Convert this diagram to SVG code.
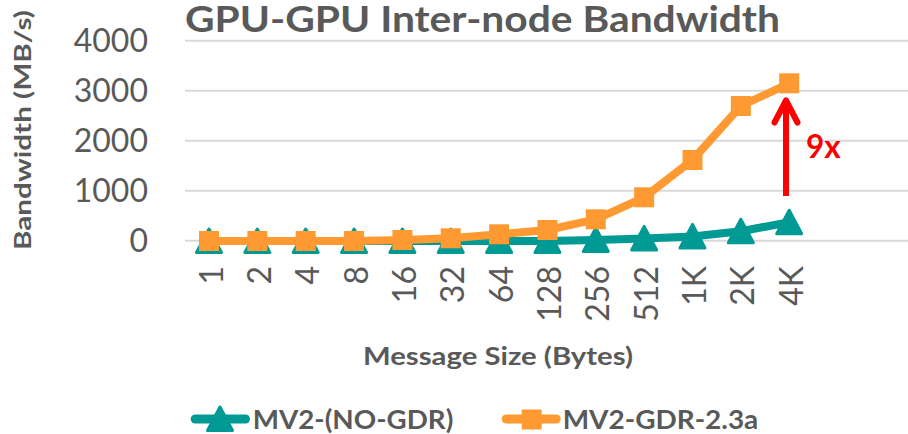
<svg xmlns="http://www.w3.org/2000/svg" width="908" height="434" viewBox="0 0 908 434">
<style>
text{font-family:Lato,"Open Sans","DejaVu Sans",sans-serif;fill:#595959}
.grid{stroke:#D9D9D9;stroke-width:2}
.tick{font-size:32px;text-anchor:end}
.title{font-size:36px;font-weight:bold}
.axt{font-size:25px;font-weight:bold}
.leg{font-size:27px;font-weight:bold}
.tl{fill:none;stroke:#009A95;stroke-width:8;stroke-linejoin:round}
.ol{fill:none;stroke:#FF9A33;stroke-width:8;stroke-linejoin:round}
.lgl{stroke-width:9;stroke-linecap:round}
</style>
<defs>
<path id="tri" d="M0,-12 L12.5,11.5 L-12.5,11.5 Z" fill="#009A95" stroke="#009A95" stroke-width="3" stroke-linejoin="round"/>
<rect id="sq" x="-10" y="-10" width="20" height="20" fill="#FF9A33"/>
</defs>
<rect width="908" height="434" fill="#FFFFFF"/>
<g id="title"><text class="title" x="185" y="31.5" textLength="595" lengthAdjust="spacingAndGlyphs">GPU-GPU Inter-node Bandwidth</text></g>
<g id="gridlines">
<line class="grid" x1="185" y1="40.7" x2="908" y2="40.7"/>
<line class="grid" x1="185" y1="90.7" x2="908" y2="90.7"/>
<line class="grid" x1="185" y1="140.7" x2="908" y2="140.7"/>
<line class="grid" x1="185" y1="190.7" x2="908" y2="190.7"/>
<line class="grid" x1="185" y1="240.7" x2="908" y2="240.7"/>
</g>
<g id="y-axis">
<text class="tick" x="148" y="52">4000</text>
<text class="tick" x="148" y="102">3000</text>
<text class="tick" x="148" y="152">2000</text>
<text class="tick" x="148" y="202">1000</text>
<text class="tick" x="148" y="252">0</text>
<text class="axt" transform="translate(31,130) rotate(-90)" text-anchor="middle" style="font-size:23px" textLength="240" lengthAdjust="spacingAndGlyphs">Bandwidth (MB/s)</text>
</g>
<g id="x-axis">
<text class="tick" transform="translate(222.5,266) rotate(-90)">1</text>
<text class="tick" transform="translate(270.85,266) rotate(-90)">2</text>
<text class="tick" transform="translate(319.2,266) rotate(-90)">4</text>
<text class="tick" transform="translate(367.55,266) rotate(-90)">8</text>
<text class="tick" transform="translate(415.9,266) rotate(-90)">16</text>
<text class="tick" transform="translate(464.25,266) rotate(-90)">32</text>
<text class="tick" transform="translate(512.6,266) rotate(-90)">64</text>
<text class="tick" transform="translate(560.95,266) rotate(-90)">128</text>
<text class="tick" transform="translate(609.3,266) rotate(-90)">256</text>
<text class="tick" transform="translate(657.65,266) rotate(-90)">512</text>
<text class="tick" transform="translate(706,266) rotate(-90)">1K</text>
<text class="tick" transform="translate(754.35,266) rotate(-90)">2K</text>
<text class="tick" transform="translate(802.7,266) rotate(-90)">4K</text>
<text class="axt" x="498" y="365" text-anchor="middle" textLength="270" lengthAdjust="spacingAndGlyphs">Message Size (Bytes)</text>
</g>
<g id="series-mv2-no-gdr">
<polyline class="tl" points="209,241 257.35,241 305.7,241 354.05,241 402.4,241 450.75,241 499.1,241 547.45,241 595.8,240 644.15,238.4 692.5,236.4 740.85,231.3 789.2,222.2"/>
<use href="#tri" x="209" y="241"/>
<use href="#tri" x="257.35" y="241"/>
<use href="#tri" x="305.7" y="241"/>
<use href="#tri" x="354.05" y="241"/>
<use href="#tri" x="402.4" y="241"/>
<use href="#tri" x="450.75" y="241"/>
<use href="#tri" x="499.1" y="241"/>
<use href="#tri" x="547.45" y="241"/>
<use href="#tri" x="595.8" y="240"/>
<use href="#tri" x="644.15" y="238.4"/>
<use href="#tri" x="692.5" y="236.4"/>
<use href="#tri" x="740.85" y="231.3"/>
<use href="#tri" x="789.2" y="222.2"/>
</g>
<g id="series-mv2-gdr">
<polyline class="ol" points="209,241 257.35,241 305.7,241 354.05,241 402.4,240 450.75,238.3 499.1,234.3 547.45,230 595.8,219.3 644.15,197.3 692.5,160 740.85,106 789.2,83.3"/>
<use href="#sq" x="209" y="241"/>
<use href="#sq" x="257.35" y="241"/>
<use href="#sq" x="305.7" y="241"/>
<use href="#sq" x="354.05" y="241"/>
<use href="#sq" x="402.4" y="240"/>
<use href="#sq" x="450.75" y="238.3"/>
<use href="#sq" x="499.1" y="234.3"/>
<use href="#sq" x="547.45" y="230"/>
<use href="#sq" x="595.8" y="219.3"/>
<use href="#sq" x="644.15" y="197.3"/>
<use href="#sq" x="692.5" y="160"/>
<use href="#sq" x="740.85" y="106"/>
<use href="#sq" x="789.2" y="83.3"/>
</g>
<g id="annotation">
<line x1="786" y1="196" x2="786" y2="102" stroke="#FF0000" stroke-width="6"/>
<polyline points="774.5,122.5 786,100.5 797.5,122.5" fill="none" stroke="#FF0000" stroke-width="6" stroke-linejoin="round" stroke-linecap="round"/>
<text x="806" y="158.3" style="fill:#FF0000;font-size:32px;font-weight:bold" textLength="34.7" lengthAdjust="spacingAndGlyphs">9x</text>
</g>
<g id="legend">
<line class="lgl" x1="195.2" y1="419" x2="245.5" y2="419" stroke="#009A95"/>
<use href="#tri" x="220" y="419"/>
<text class="leg" x="252.7" y="428.5" textLength="200.6" lengthAdjust="spacingAndGlyphs">MV2-(NO-GDR)</text>
<line class="lgl" x1="506.2" y1="419" x2="556.2" y2="419" stroke="#FF9A33"/>
<use href="#sq" x="531.7" y="419.5"/>
<text class="leg" x="562.7" y="428.5" textLength="195.6" lengthAdjust="spacingAndGlyphs">MV2-GDR-2.3a</text>
</g>
</svg>
